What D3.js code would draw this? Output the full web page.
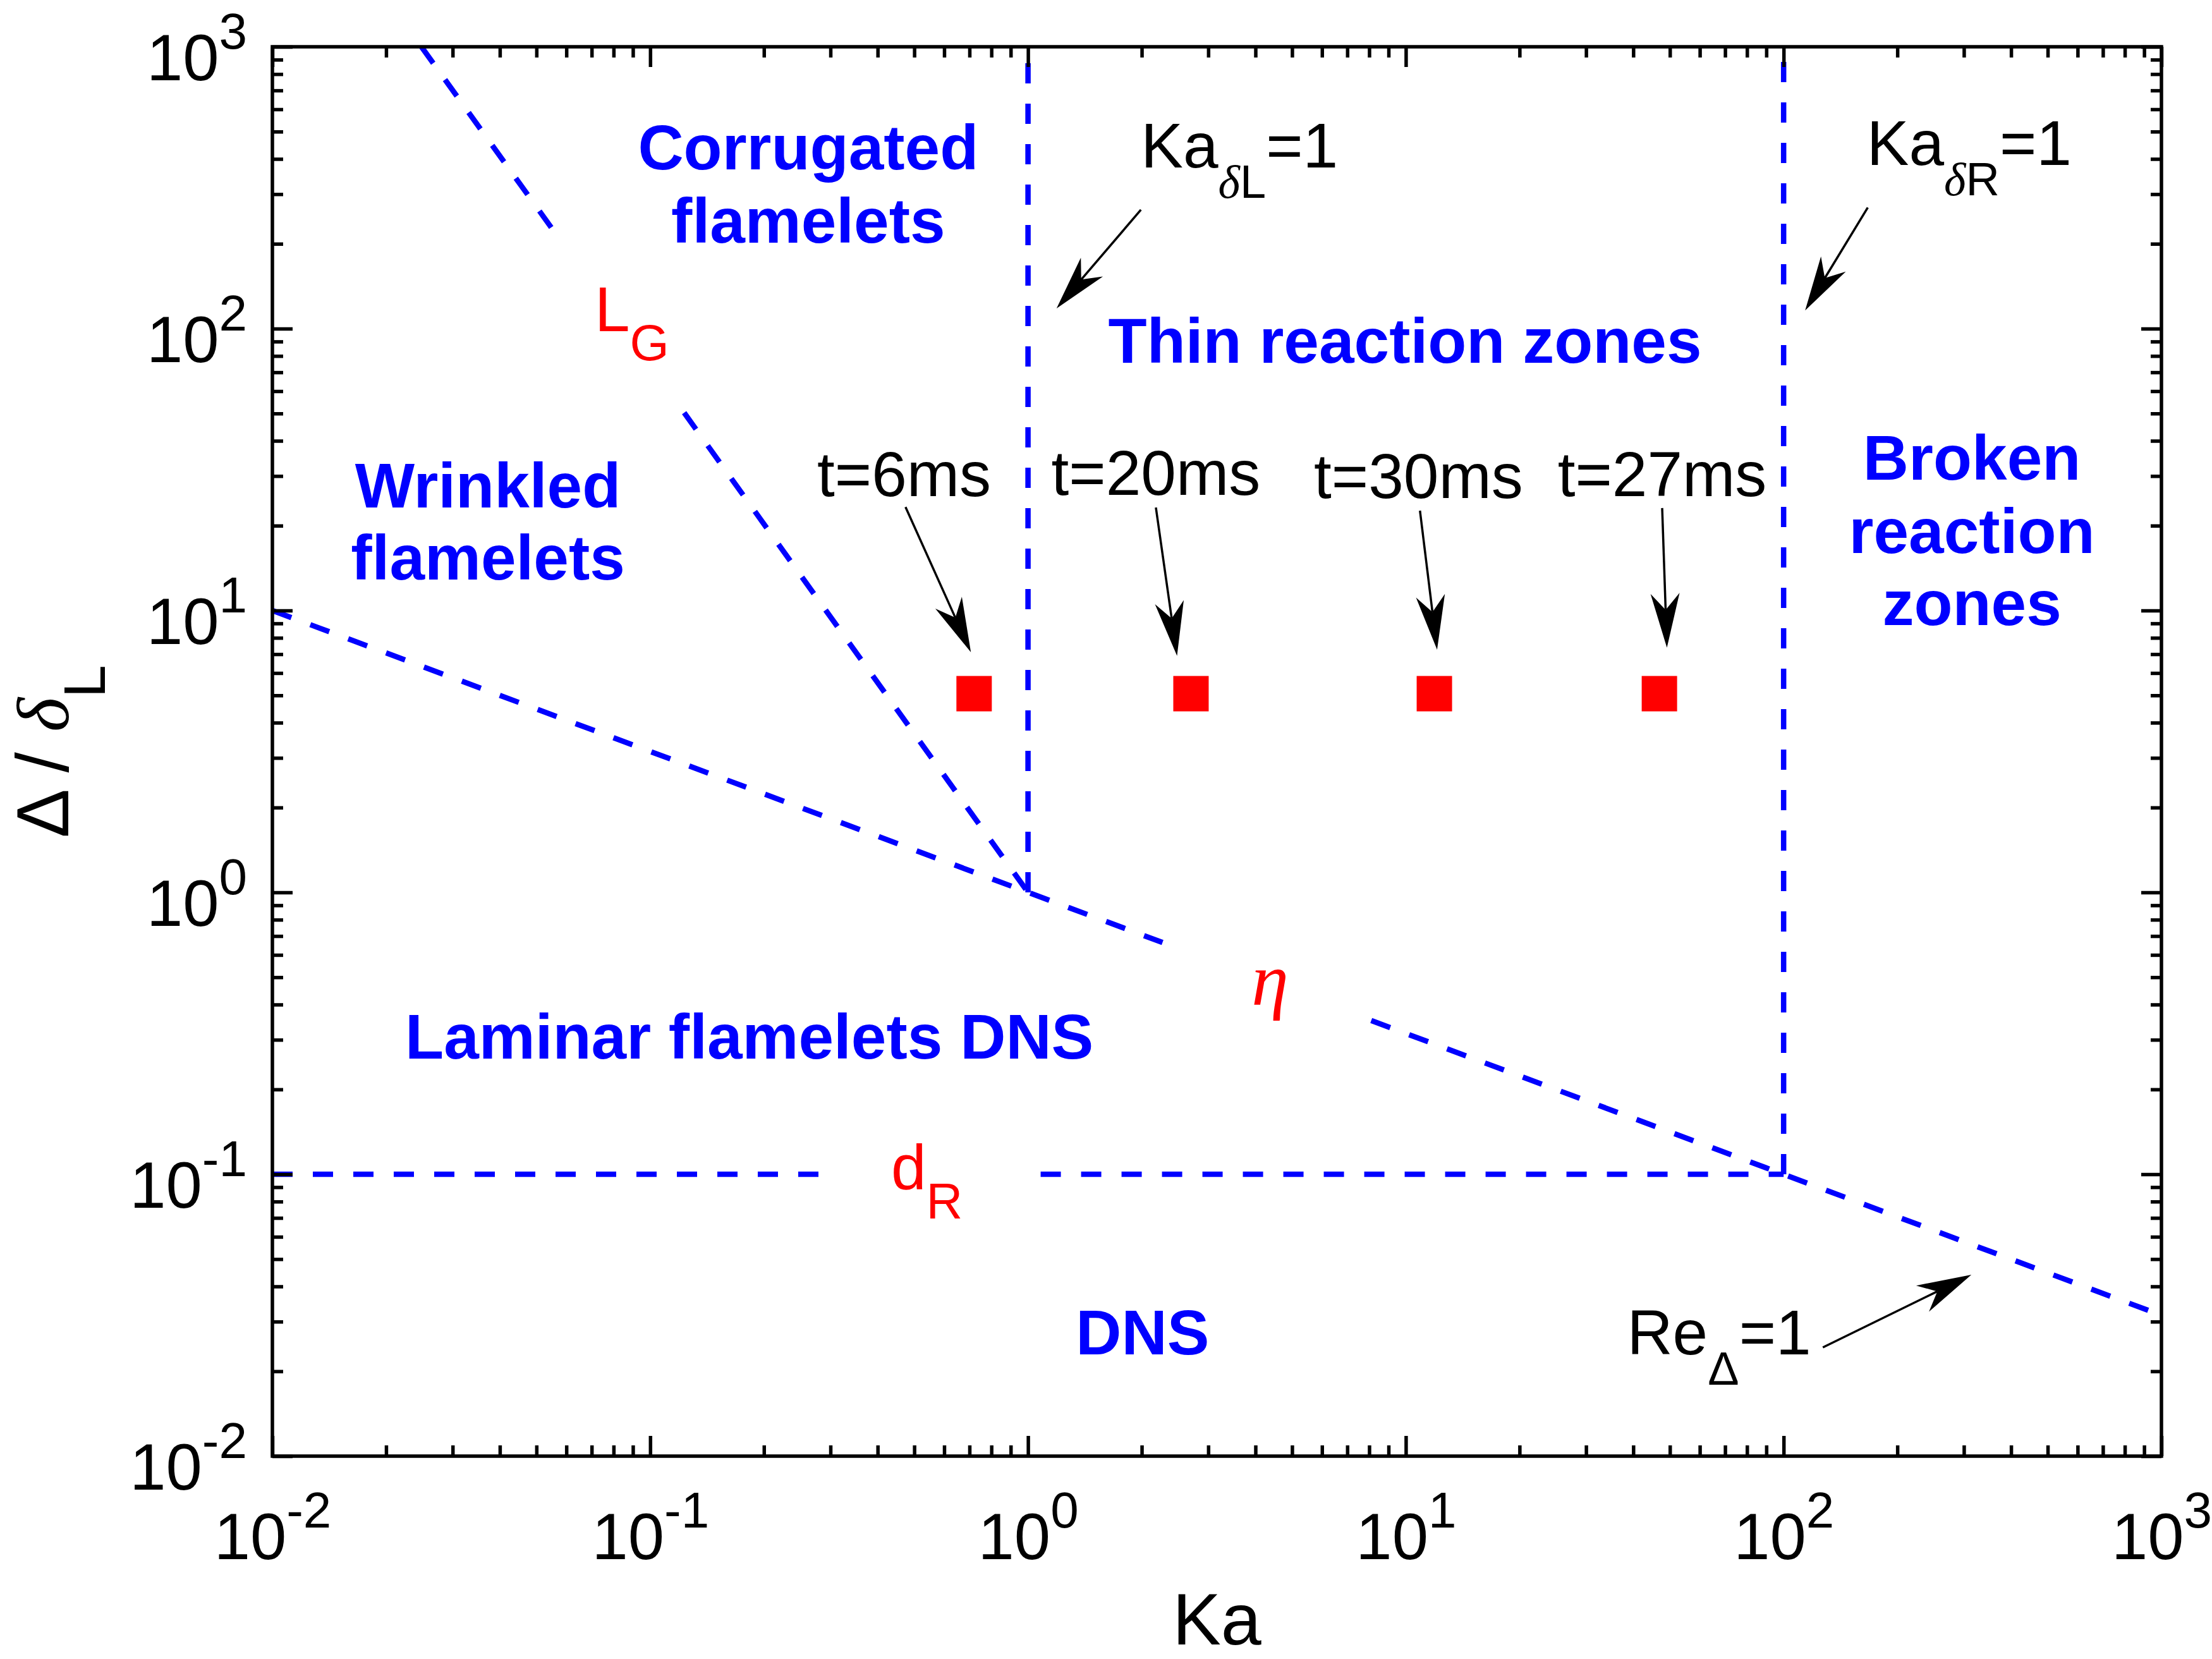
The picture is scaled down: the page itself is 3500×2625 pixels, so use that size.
<!DOCTYPE html>
<html><head><meta charset="utf-8">
<script src="https://cdn.jsdelivr.net/npm/d3@7"></script>
<style>body{margin:0;background:#fff}svg{display:block}</style>
</head><body>
<svg id="chart" width="3500" height="2625"></svg>
<script>
// ---------------- data ----------------
const kaDomain = [1e-2, 1e3];
const ratioDomain = [1e-2, 1e3];
const majorTicks = [1e-2, 1e-1, 1, 10, 100, 1000];
const tickExponents = ["-2", "-1", "0", "1", "2", "3"];

const pointKa = [0.72, 2.7, 11.9, 46.9];
const pointRatio = [5.07, 5.07, 5.07, 5.07];
const pointLabels = ["t=6ms", "t=20ms", "t=30ms", "t=27ms"];
const pointLabelKa = [0.47, 2.18, 10.8, 47.7];
const pointLabelRatio = [25.4, 25.7, 25.1, 25.4];
const pointArrowStart = [[0.474, 23.3], [2.18, 23.2], [10.9, 22.6], [47.7, 23.1]];
const pointArrowTip = [[0.706, 7.11], [2.48, 6.90], [12.1, 7.26], [49.1, 7.38]];

const etaLine = [[[0.01, 10], [2.27, 0.664]], [[8.1, 0.351], [1000, 0.0316]]];
const gibsonLine = [[[0.0248, 1000], [0.0553, 224]], [[0.123, 50.3], [1, 1]]];
const reactionLine = [[[0.01, 0.1], [0.285, 0.1]], [[1.08, 0.1], [100, 0.1]]];
const kaDeltaLLine = [[[1, 1], [1, 1000]]];
const kaDeltaRLine = [[[100, 0.1], [100, 1000]]];

const regionText = [
  {lines: ["Corrugated", "flamelets"], ka: 0.262, ratio: [367, 202]},
  {lines: ["Thin reaction zones"], ka: 9.95, ratio: [75.7]},
  {lines: ["Wrinkled", "flamelets"], ka: 0.0372, ratio: [23.2, 12.9]},
  {lines: ["Broken", "reaction", "zones"], ka: 315, ratio: [29.1, 16.0, 8.87]},
  {lines: ["Laminar flamelets DNS"], ka: 0.183, ratio: [0.257]},
  {lines: ["DNS"], ka: 2.01, ratio: [0.0230]}
];

const scaleLabels = [
  {main: "L", sub: "G", ka: 0.0713, ratio: 98},
  {main: "d", sub: "R", ka: 0.434, ratio: 0.0883}
];
const etaLabel = {ka: 4.37, ratio: 0.399};

const boundaryLabels = [
  {main: "Ka", sub: ["δ", "L"], rest: "=1", ka: 1.99, ratio: 373, arrow: [[1.99, 264], [1.19, 118]]},
  {main: "Ka", sub: ["δ", "R"], rest: "=1", ka: 166, ratio: 381, arrow: [[167, 269], [114, 116]]},
  {main: "Re", sub: ["Δ"], rest: "=1", ka: 38.5, ratio: 0.0230, arrow: [[127, 0.0243], [314, 0.0440]]}
];

// ---------------- layout ----------------
const W = 3500, H = 2625;
const margin = {left: 431, right: 80, top: 74, bottom: 321};
const SANS = "'Liberation Sans', Arial, Helvetica, sans-serif";
const SERIF = "'Liberation Serif', 'Times New Roman', serif";
const BLUE = "#0000ff", RED = "#ff0000";

const svg = d3.select("#chart");
svg.append("rect").attr("width", W).attr("height", H).attr("fill", "#fff");

const x = d3.scaleLog().domain(kaDomain).range([margin.left, W - margin.right]);
const y = d3.scaleLog().domain(ratioDomain).range([H - margin.bottom, margin.top]);

const minorTicks = x.ticks().filter(v => !majorTicks.some(m => Math.abs(m - v) / m < 1e-9));
const minorTicksY = y.ticks().filter(v => !majorTicks.some(m => Math.abs(m - v) / m < 1e-9));

const x0 = margin.left, x1 = W - margin.right, y0 = margin.top, y1 = H - margin.bottom;

svg.append("defs").append("clipPath").attr("id", "clip")
  .append("rect").attr("x", x0).attr("y", y0).attr("width", x1 - x0).attr("height", y1 - y0);

// ---------------- boundary lines ----------------
const lineGen = d3.line().x(d => x(d[0])).y(d => y(d[1]));
const plotG = svg.append("g").attr("clip-path", "url(#clip)");
[etaLine, gibsonLine, reactionLine, kaDeltaLLine, kaDeltaRLine].forEach(segs => {
  segs.forEach(seg => {
    plotG.append("path").attr("d", lineGen(seg))
      .attr("fill", "none").attr("stroke", BLUE).attr("stroke-width", 8.5)
      .attr("stroke-dasharray", "32,32");
  });
});

// ---------------- red squares ----------------
const SQ = 56;
svg.append("g").selectAll("rect").data(pointKa).join("rect")
  .attr("x", (d, i) => x(d) - SQ / 2)
  .attr("y", (d, i) => y(pointRatio[i]) - SQ / 2)
  .attr("width", SQ).attr("height", SQ).attr("fill", RED);

// ---------------- arrows ----------------
function arrow(g, a, b) {
  const X1 = x(a[0]), Y1 = y(a[1]), X2 = x(b[0]), Y2 = y(b[1]);
  const len = Math.hypot(X2 - X1, Y2 - Y1);
  const ux = (X2 - X1) / len, uy = (Y2 - Y1) / len;
  const px = -uy, py = ux;
  const L = 86, Wd = 23, N = 60;
  const bx = X2 - L * ux, by = Y2 - L * uy;
  const nx = X2 - N * ux, ny = Y2 - N * uy;
  g.append("line").attr("x1", X1).attr("y1", Y1).attr("x2", nx).attr("y2", ny)
    .attr("stroke", "#000").attr("stroke-width", 3.5);
  g.append("path")
    .attr("d", `M${X2},${Y2}L${bx + Wd * px},${by + Wd * py}L${nx},${ny}L${bx - Wd * px},${by - Wd * py}Z`)
    .attr("fill", "#000");
}
const arrowG = svg.append("g");
pointArrowStart.forEach((s, i) => arrow(arrowG, s, pointArrowTip[i]));
boundaryLabels.forEach(b => arrow(arrowG, b.arrow[0], b.arrow[1]));

// ---------------- axes ----------------
function styleAxis(g) {
  g.select(".domain").remove();
  g.selectAll(".tick line").attr("stroke", "#000").attr("stroke-width", 5.5);
}
const MAJ = 32, MIN = 17;
// bottom
const gb = svg.append("g").attr("transform", `translate(0,${y1})`)
  .call(d3.axisBottom(x).tickValues(majorTicks).tickSize(-MAJ).tickSizeOuter(0));
styleAxis(gb);
gb.selectAll(".tick text").each(function(d, i) {
  const t = d3.select(this);
  t.text(null).attr("y", 163).attr("dy", 0).attr("text-anchor", "middle")
    .attr("font-family", SANS).attr("font-size", 103).attr("fill", "#000");
  t.append("tspan").text("10");
  t.append("tspan").attr("dy", -50).attr("font-size", 80).text(tickExponents[i]);
});
const gbm = svg.append("g").attr("transform", `translate(0,${y1})`)
  .call(d3.axisBottom(x).tickValues(minorTicks).tickSize(-MIN).tickSizeOuter(0).tickFormat(""));
styleAxis(gbm);
// top
const gt = svg.append("g").attr("transform", `translate(0,${y0})`)
  .call(d3.axisTop(x).tickValues(majorTicks).tickSize(-MAJ).tickSizeOuter(0).tickFormat(""));
styleAxis(gt);
const gtm = svg.append("g").attr("transform", `translate(0,${y0})`)
  .call(d3.axisTop(x).tickValues(minorTicks).tickSize(-MIN).tickSizeOuter(0).tickFormat(""));
styleAxis(gtm);
// left
const gl = svg.append("g").attr("transform", `translate(${x0},0)`)
  .call(d3.axisLeft(y).tickValues(majorTicks).tickSize(-MAJ).tickSizeOuter(0));
styleAxis(gl);
gl.selectAll(".tick text").each(function(d, i) {
  const t = d3.select(this);
  t.text(null).attr("x", -40).attr("y", 52).attr("dy", 0).attr("text-anchor", "end")
    .attr("font-family", SANS).attr("font-size", 103).attr("fill", "#000");
  t.append("tspan").text("10");
  t.append("tspan").attr("dy", -50).attr("font-size", 80).text(tickExponents[i]);
});
const glm = svg.append("g").attr("transform", `translate(${x0},0)`)
  .call(d3.axisLeft(y).tickValues(minorTicksY).tickSize(-MIN).tickSizeOuter(0).tickFormat(""));
styleAxis(glm);
// right
const gr = svg.append("g").attr("transform", `translate(${x1},0)`)
  .call(d3.axisRight(y).tickValues(majorTicks).tickSize(-MAJ).tickSizeOuter(0).tickFormat(""));
styleAxis(gr);
const grm = svg.append("g").attr("transform", `translate(${x1},0)`)
  .call(d3.axisRight(y).tickValues(minorTicksY).tickSize(-MIN).tickSizeOuter(0).tickFormat(""));
styleAxis(grm);

// frame
svg.append("rect").attr("x", x0).attr("y", y0).attr("width", x1 - x0).attr("height", y1 - y0)
  .attr("fill", "none").attr("stroke", "#000").attr("stroke-width", 5.5);

// axis titles
svg.append("text").attr("x", (x0 + x1) / 2).attr("y", 2602).attr("text-anchor", "middle")
  .attr("font-family", SANS).attr("font-size", 115).attr("fill", "#000").text("Ka");
const yl = svg.append("text").attr("transform", `translate(108,${(y0 + y1) / 2}) rotate(-90)`)
  .attr("text-anchor", "middle").attr("font-family", SANS).attr("font-size", 116).attr("fill", "#000");
yl.append("tspan").text("Δ / ");
yl.append("tspan").attr("font-family", SERIF).attr("font-style", "italic").text("δ");
yl.append("tspan").attr("dy", 58).attr("font-size", 93).text("L");

// ---------------- texts ----------------
const textG = svg.append("g").attr("font-family", SANS);
regionText.forEach(r => {
  r.lines.forEach((ln, j) => {
    textG.append("text").attr("x", x(r.ka)).attr("y", y(r.ratio[j]))
      .attr("text-anchor", "middle").attr("font-weight", "bold").attr("font-size", 100)
      .attr("fill", BLUE).text(ln);
  });
});
pointLabels.forEach((t, i) => {
  textG.append("text").attr("x", x(pointLabelKa[i])).attr("y", y(pointLabelRatio[i]))
    .attr("text-anchor", "middle").attr("font-size", 100).attr("fill", "#000").text(t);
});
scaleLabels.forEach(s => {
  const t = textG.append("text").attr("x", x(s.ka)).attr("y", y(s.ratio))
    .attr("font-size", 100).attr("fill", RED);
  t.append("tspan").text(s.main);
  t.append("tspan").attr("dy", 46).attr("font-size", 80).text(s.sub);
});
textG.append("text").attr("x", x(etaLabel.ka)).attr("y", y(etaLabel.ratio))
  .attr("text-anchor", "middle").attr("font-family", SERIF).attr("font-style", "italic")
  .attr("font-size", 118).attr("fill", RED).text("η");
boundaryLabels.forEach(b => {
  const t = textG.append("text").attr("x", x(b.ka)).attr("y", y(b.ratio))
    .attr("font-size", 100).attr("fill", "#000");
  t.append("tspan").text(b.main);
  b.sub.forEach((s, k) => {
    const ts = t.append("tspan").attr("font-size", 74).text(s);
    if (k === 0) ts.attr("dy", 48);
    if (s === "δ") ts.attr("font-family", SERIF).attr("font-style", "italic");
  });
  t.append("tspan").attr("dy", -48).attr("font-size", 100).text(b.rest);
});
</script>
</body></html>
